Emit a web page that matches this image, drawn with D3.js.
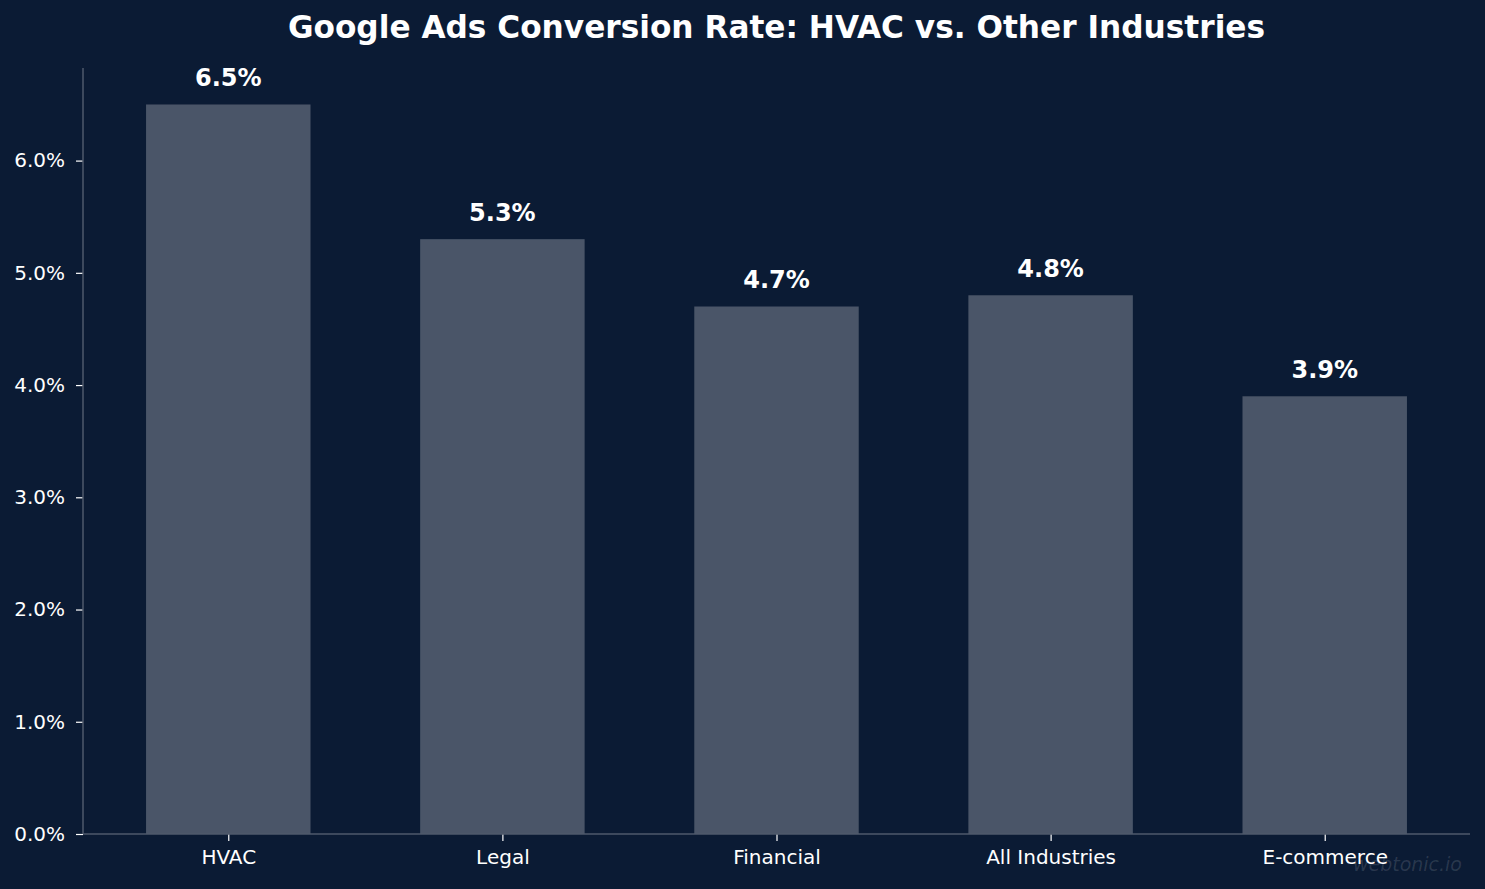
<!DOCTYPE html>
<html>
<head>
<meta charset="utf-8">
<script src="https://cdn.jsdelivr.net/npm/d3@7"></script>
<style>
  html, body { margin: 0; padding: 0; background: #0b1b34; }
  svg { display: block; font-family: "DejaVu Sans", sans-serif; }
</style>
</head>
<body>
<script>
// chart data
var categories = ["HVAC", "Legal", "Financial", "All Industries", "E-commerce"];
var rates = [6.5, 5.3, 4.7, 4.8, 3.9];
var yTicks = [0, 1, 2, 3, 4, 5, 6];

var width = 1485,
    height = 889,
    margin = {top: 68, right: 15, bottom: 55, left: 83};

var bg = "#0b1b34",
    barColor = "#4a5568",
    spineColor = "#4f5a6b";

var svg = d3.select("body").append("svg")
    .attr("width", width)
    .attr("height", height)
    .style("background", bg);

// matplotlib-style bar positions: centres at 0..n-1, bar width 0.6, 5% margins
var n = categories.length;
var x = d3.scaleLinear()
    .domain([-0.53, n - 1 + 0.53])
    .range([margin.left, width - margin.right]);

var y = d3.scaleLinear()
    .domain([0, d3.max(rates) * 1.05])
    .range([height - margin.bottom, margin.top]);

var barW = x(0.6) - x(0);

// title, centred over the axes
svg.append("text")
    .attr("x", (margin.left + width - margin.right) / 2)
    .attr("y", 38)
    .attr("text-anchor", "middle")
    .attr("fill", "#ffffff")
    .style("font-size", "31.2px")
    .style("font-weight", "bold")
    .text("Google Ads Conversion Rate: HVAC vs. Other Industries");

// bars
svg.selectAll("rect.bar")
    .data(rates)
  .enter().append("rect")
    .attr("class", "bar")
    .attr("x", (d, i) => x(i) - barW / 2)
    .attr("y", d => y(d))
    .attr("width", barW)
    .attr("height", d => y(0) - y(d))
    .attr("fill", barColor);

// value labels
svg.selectAll("text.val")
    .data(rates)
  .enter().append("text")
    .attr("class", "val")
    .attr("x", (d, i) => x(i))
    .attr("y", d => y(d) - 18)
    .attr("text-anchor", "middle")
    .attr("fill", "#ffffff")
    .style("font-size", "24px")
    .style("font-weight", "bold")
    .text(d => d.toFixed(1) + "%");

// y axis
var yAxis = svg.append("g")
    .attr("transform", `translate(${margin.left},0)`)
    .call(d3.axisLeft(y).tickValues(yTicks).tickFormat(d => d.toFixed(1) + "%").tickSize(7).tickPadding(11));
yAxis.select(".domain").remove();
yAxis.selectAll(".tick line").attr("stroke", "#ffffff").attr("stroke-width", 1.2);
yAxis.selectAll(".tick text")
    .attr("fill", "#ffffff")
    .style("font-size", "20px")
    .style("font-family", "DejaVu Sans, sans-serif");

// x axis
var xAxis = svg.append("g")
    .attr("transform", `translate(0,${height - margin.bottom})`)
    .call(d3.axisBottom(x).tickValues(d3.range(n)).tickFormat(i => categories[i]).tickSize(7).tickPadding(9));
xAxis.select(".domain").remove();
xAxis.selectAll(".tick line").attr("stroke", "#ffffff").attr("stroke-width", 1.2);
xAxis.selectAll(".tick text")
    .attr("fill", "#ffffff")
    .style("font-size", "20px")
    .style("font-family", "DejaVu Sans, sans-serif");

// spines (left and bottom only)
svg.append("line")
    .attr("x1", margin.left).attr("x2", margin.left)
    .attr("y1", margin.top).attr("y2", height - margin.bottom)
    .attr("stroke", spineColor).attr("stroke-width", 1.5);
svg.append("line")
    .attr("x1", margin.left).attr("x2", width - margin.right)
    .attr("y1", height - margin.bottom).attr("y2", height - margin.bottom)
    .attr("stroke", spineColor).attr("stroke-width", 1.5);

// watermark
svg.append("text")
    .attr("x", width - 23)
    .attr("y", 871)
    .attr("text-anchor", "end")
    .attr("fill", "#ffffff")
    .attr("fill-opacity", 0.13)
    .style("font-size", "19px")
    .style("font-style", "italic")
    .text("webtonic.io");
</script>
</body>
</html>
